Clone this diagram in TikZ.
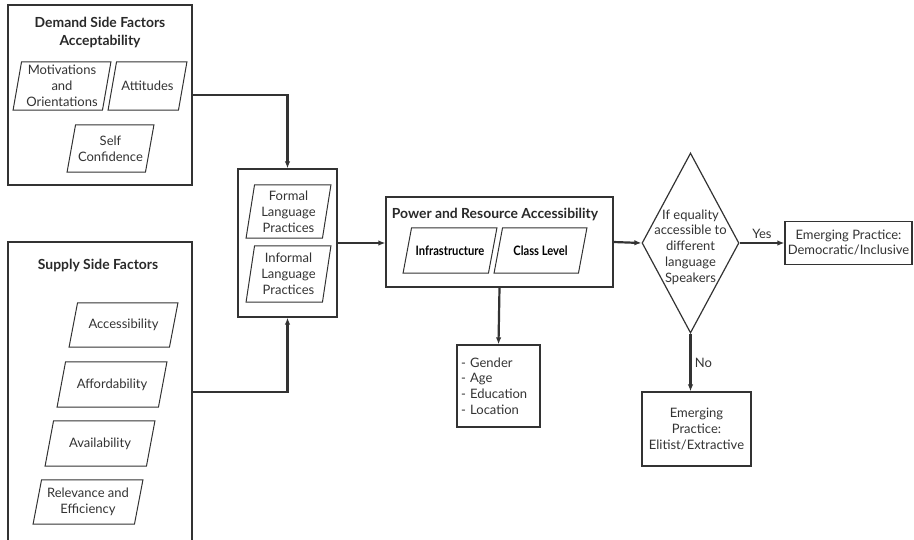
\documentclass[tikz,border=0pt]{standalone}
\usepackage{fontspec}
\setmainfont{Lato}
\usetikzlibrary{shapes.geometric,arrows.meta}
\definecolor{ink}{gray}{0.2}
\newlength{\slant}
\setlength{\slant}{8.5pt}
\tikzset{
	box/.style={draw=ink,line width=1.2pt,rectangle,inner sep=2pt,align=center,text=ink},
	para/.style={rectangle,inner sep=0pt,align=center,text=ink,
		append after command={\pgfextra{\let\paranode\tikzlastnode
			\draw[ink,line width=1pt,line join=miter]
			([xshift=-0.5\slant]\paranode.south west) -- ([xshift=0.5\slant]\paranode.north west)
			-- ([xshift=0.5\slant]\paranode.north east) -- ([xshift=-0.5\slant]\paranode.south east) -- cycle;}}},
	strong/.style={text=black,font=\fontsize{13}{15.8}\selectfont\bfseries\addfontfeatures{FakeStretch=0.86}},
	heading/.style={text=ink!80!black,align=center,font=\fontsize{13.9}{18}\selectfont\bfseries},
	decision/.style={draw=ink,line width=1.2pt,diamond,inner sep=0pt},
	link/.style={draw=ink,line width=2.2pt,-{Latex[length=7pt,width=5.5pt]}},
}
\begin{document}
\begin{tikzpicture}[x=1pt,y=-1pt,font=\fontsize{13}{15.8}\selectfont]
	\clip (0,0) rectangle (914,539);
	\node[box,minimum width=184pt,minimum height=180pt] (demand) at (100,95) {};
	\node[heading] (demandtitle) at (100,32.5) {Demand Side Factors\\Acceptability};
	\node[para,minimum width=89pt,minimum height=48pt] (motivations) at (62,86) {Motivations\\and\\Orientations};
	\node[para,minimum width=70pt,minimum height=48pt] (attitudes) at (147.5,86) {Attitudes};
	\node[para,minimum width=78pt,minimum height=47pt] (confidence) at (110.5,148.5) {Self\\Confidence};

	\node[box,minimum width=184pt,minimum height=300pt] (supply) at (100,392) {};
	\node[heading] (supplytitle) at (98,265) {Supply Side Factors};
	\node[para,minimum width=100pt,minimum height=44pt] (accessibility) at (123.5,325) {Accessibility};
	\node[para,minimum width=101pt,minimum height=45pt] (affordability) at (112,384.5) {Affordability};
	\node[para,minimum width=101pt,minimum height=45pt] (availability) at (100,443.5) {Availability};
	\node[para,minimum width=101pt,minimum height=44pt] (relevance) at (88,502) {Relevance and\\Efficiency};

	\node[box,minimum width=99pt,minimum height=148pt] (practices) at (287.5,243) {};
	\node[para,minimum width=76pt,minimum height=53pt] (formal) at (288.5,211.5) {Formal\\Language\\Practices};
	\node[para,minimum width=76pt,minimum height=56pt] (informal) at (288.5,274) {Informal\\Language\\Practices};

	\node[box,minimum width=227pt,minimum height=90pt] (power) at (499.5,242) {};
	\node[heading] (powertitle) at (495,214) {Power and Resource Accessibility};
	\node[para,strong,minimum width=85pt,minimum height=45pt] (infrastructure) at (450,250.5) {Infrastructure};
	\node[para,strong,minimum width=84pt,minimum height=45pt] (classlevel) at (540.5,250.5) {Class Level};

	\node[box,align=left,text width=75pt,inner xsep=4pt,minimum height=82pt] (factors) at (498.5,386) {- Gender\\- Age\\- Education\\- Location};

	\node[decision,minimum width=97pt,minimum height=180pt,label={[text=ink,align=center,yshift=-4pt]center:If equality\\accessible to\\different\\language\\Speakers}] (check) at (690.5,243) {};
	\node[box,minimum width=127pt,minimum height=43pt,font=\fontsize{13}{15}\selectfont] (inclusive) at (848.5,243) {Emerging Practice:\\Democratic/Inclusive};
	\node[box,minimum width=109pt,minimum height=74pt] (elitist) at (696.5,429) {Emerging\\Practice:\\Elitist/Extractive};

	\draw[link] (demand.east) -| (practices.north);
	\draw[link] (supply.east) -| (practices.south);
	\draw[link] (practices.east) -- (practices.east -| power.west);
	\draw[link] (power.south) -- (factors.north);
	\draw[link] (power.east) -- (check.west);
	\draw[link] (check.east) -- node[above=0pt,text=ink] {Yes} (check.east -| inclusive.west);
	\draw[link] (check.south) -- node[right,text=ink] {No} (check.south |- elitist.north);
\end{tikzpicture}
\end{document}
